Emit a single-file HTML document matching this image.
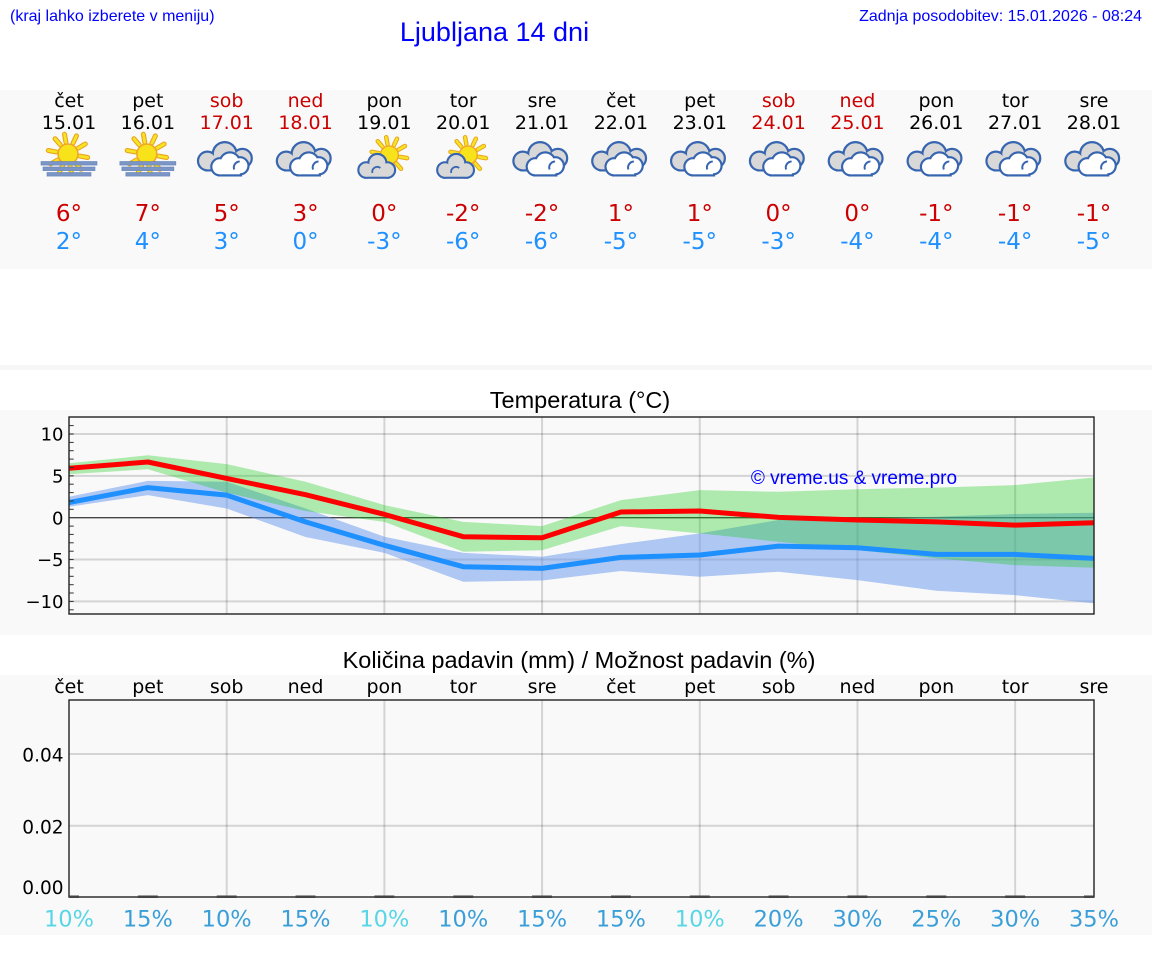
<!DOCTYPE html>
<html><head><meta charset="utf-8"><style>
html,body{margin:0;padding:0;background:#fff;}
svg{display:block;}
.dj{font-family:"DejaVu Sans","Liberation Sans",sans-serif;}
.ls{font-family:"Liberation Sans",Arial,sans-serif;}
</style></head><body>
<svg width="1152" height="975" viewBox="0 0 1152 975" xmlns="http://www.w3.org/2000/svg">
<defs>
  <g id="sunrays">
    <g stroke="#e9a41c" stroke-width="5" stroke-linecap="round">
      <line x1="-11.8" y1="-2.1" x2="-19.7" y2="-3.5"/><line x1="-7.7" y1="-9.2" x2="-12.9" y2="-15.3"/>
      <line x1="-2.1" y1="-11.8" x2="-3.5" y2="-19.7"/><line x1="5.1" y1="-10.9" x2="8.5" y2="-18.1"/>
      <line x1="10.4" y1="-6" x2="17.3" y2="-10"/><line x1="11.8" y1="2.1" x2="19.7" y2="3.5"/>
      <line x1="7.7" y1="9.2" x2="12.9" y2="15.3"/><line x1="-5.1" y1="10.9" x2="-8.5" y2="18.1"/>
      <line x1="-10.4" y1="6" x2="-17.3" y2="10"/><line x1="2.1" y1="11.8" x2="3.5" y2="19.7"/>
    </g>
    <g stroke="#f7e325" stroke-width="2.8" stroke-linecap="round">
      <line x1="-11.8" y1="-2.1" x2="-19.7" y2="-3.5"/><line x1="-7.7" y1="-9.2" x2="-12.9" y2="-15.3"/>
      <line x1="-2.1" y1="-11.8" x2="-3.5" y2="-19.7"/><line x1="5.1" y1="-10.9" x2="8.5" y2="-18.1"/>
      <line x1="10.4" y1="-6" x2="17.3" y2="-10"/><line x1="11.8" y1="2.1" x2="19.7" y2="3.5"/>
      <line x1="7.7" y1="9.2" x2="12.9" y2="15.3"/><line x1="-5.1" y1="10.9" x2="-8.5" y2="18.1"/>
      <line x1="-10.4" y1="6" x2="-17.3" y2="10"/><line x1="2.1" y1="11.8" x2="3.5" y2="19.7"/>
    </g>
    <circle cx="0" cy="0" r="10" fill="#f8e21a" stroke="#eea52a" stroke-width="1.5"/>
  </g>
  <g id="fog">
    <use href="#sunrays" transform="translate(-1,-6)"/>
    <rect x="-28" y="1.5" width="56" height="3.6" fill="#7b95c7" stroke="#6482b8" stroke-width="0.6"/>
    <rect x="-26" y="7" width="52" height="3.6" fill="#7b95c7" stroke="#6482b8" stroke-width="0.6"/>
    <rect x="-22" y="12.5" width="44" height="3.6" fill="#7b95c7" stroke="#6482b8" stroke-width="0.6"/>
  </g>
  <g id="cloud">
    <g fill="#3765b0" stroke="#3765b0" stroke-width="4.4">
      <circle cx="-19.3" cy="1" r="8.3"/><circle cx="-2" cy="-6" r="10.8"/><circle cx="15.7" cy="-1.7" r="8.3"/>
      <rect x="-19.3" y="1" width="35" height="8.3"/>
    </g>
    <g fill="#d8d8d8">
      <circle cx="-19.3" cy="1" r="8.3"/><circle cx="-2" cy="-6" r="10.8"/><circle cx="15.7" cy="-1.7" r="8.3"/>
      <rect x="-19.3" y="1" width="35" height="8.3"/>
    </g>
    <g fill="#3765b0" stroke="#3765b0" stroke-width="4.4">
      <circle cx="-6.8" cy="6.8" r="7.5"/><circle cx="3.2" cy="2.5" r="9"/><circle cx="13.2" cy="5.8" r="7.5"/>
      <rect x="-6.8" y="5.8" width="20" height="8.5"/>
    </g>
    <g fill="#ffffff">
      <circle cx="-6.8" cy="6.8" r="7.5"/><circle cx="3.2" cy="2.5" r="9"/><circle cx="13.2" cy="5.8" r="7.5"/>
      <rect x="-6.8" y="5.8" width="20" height="8.5"/>
    </g>
    <path d="M7.5 9.5 A6 6 0 0 1 13 1.5" fill="none" stroke="#3765b0" stroke-width="2"/>
  </g>
  <g id="pcloud">
    <use href="#sunrays" transform="translate(5,-5) scale(0.9)"/>
    <g fill="#3765b0" stroke="#3765b0" stroke-width="4.2">
      <circle cx="-18.3" cy="10" r="6.7"/><circle cx="-7" cy="3" r="8"/><circle cx="3" cy="10" r="6.7"/>
      <rect x="-18.3" y="10" width="21.3" height="6.7"/>
    </g>
    <g fill="#d8d8d8">
      <circle cx="-18.3" cy="10" r="6.7"/><circle cx="-7" cy="3" r="8"/><circle cx="3" cy="10" r="6.7"/>
      <rect x="-18.3" y="10" width="21.3" height="6.7"/>
    </g>
    <path d="M-12 13 A5 5 0 0 1 -4 8" fill="none" stroke="#3765b0" stroke-width="1.8"/>
  </g>
  <clipPath id="tclip"><rect x="69" y="417" width="1025" height="197"/></clipPath>
</defs>

<!-- header -->
<text x="10" y="21" class="ls" font-size="16" fill="#0000ff">(kraj lahko izberete v meniju)</text>
<text x="494.5" y="41" class="ls" font-size="27" fill="#0000ff" text-anchor="middle">Ljubljana 14 dni</text>
<text x="1142" y="21" class="ls" font-size="16" fill="#0000ff" text-anchor="end">Zadnja posodobitev: 15.01.2026 - 08:24</text>

<!-- top panel -->
<rect x="0" y="90" width="1152" height="179" fill="#f9f9f9"/>
<g class="dj" font-size="19" text-anchor="middle">
  <text x="69" y="107">čet</text><text x="147.85" y="107">pet</text>
  <text x="226.69" y="107" fill="#cc0000">sob</text><text x="305.54" y="107" fill="#cc0000">ned</text>
  <text x="384.38" y="107">pon</text><text x="463.23" y="107">tor</text><text x="542.08" y="107">sre</text>
  <text x="620.92" y="107">čet</text><text x="699.77" y="107">pet</text>
  <text x="778.62" y="107" fill="#cc0000">sob</text><text x="857.46" y="107" fill="#cc0000">ned</text>
  <text x="936.31" y="107">pon</text><text x="1015.15" y="107">tor</text><text x="1094" y="107">sre</text>

  <text x="69" y="129">15.01</text><text x="147.85" y="129">16.01</text>
  <text x="226.69" y="129" fill="#cc0000">17.01</text><text x="305.54" y="129" fill="#cc0000">18.01</text>
  <text x="384.38" y="129">19.01</text><text x="463.23" y="129">20.01</text><text x="542.08" y="129">21.01</text>
  <text x="620.92" y="129">22.01</text><text x="699.77" y="129">23.01</text>
  <text x="778.62" y="129" fill="#cc0000">24.01</text><text x="857.46" y="129" fill="#cc0000">25.01</text>
  <text x="936.31" y="129">26.01</text><text x="1015.15" y="129">27.01</text><text x="1094" y="129">28.01</text>
</g>
<use href="#fog" transform="translate(69,160)"/>
<use href="#fog" transform="translate(147.85,160)"/>
<use href="#cloud" transform="translate(226.69,160)"/>
<use href="#cloud" transform="translate(305.54,160)"/>
<use href="#pcloud" transform="translate(384.38,160)"/>
<use href="#pcloud" transform="translate(463.23,160)"/>
<use href="#cloud" transform="translate(542.08,160)"/>
<use href="#cloud" transform="translate(620.92,160)"/>
<use href="#cloud" transform="translate(699.77,160)"/>
<use href="#cloud" transform="translate(778.62,160)"/>
<use href="#cloud" transform="translate(857.46,160)"/>
<use href="#cloud" transform="translate(936.31,160)"/>
<use href="#cloud" transform="translate(1015.15,160)"/>
<use href="#cloud" transform="translate(1094,160)"/>
<g class="dj" font-size="23" text-anchor="middle" fill="#cc0000">
  <text x="69" y="221">6°</text><text x="147.85" y="221">7°</text><text x="226.69" y="221">5°</text>
  <text x="305.54" y="221">3°</text><text x="384.38" y="221">0°</text><text x="463.23" y="221">-2°</text>
  <text x="542.08" y="221">-2°</text><text x="620.92" y="221">1°</text><text x="699.77" y="221">1°</text>
  <text x="778.62" y="221">0°</text><text x="857.46" y="221">0°</text><text x="936.31" y="221">-1°</text>
  <text x="1015.15" y="221">-1°</text><text x="1094" y="221">-1°</text>
</g>
<g class="dj" font-size="23" text-anchor="middle" fill="#1e90ff">
  <text x="69" y="249">2°</text><text x="147.85" y="249">4°</text><text x="226.69" y="249">3°</text>
  <text x="305.54" y="249">0°</text><text x="384.38" y="249">-3°</text><text x="463.23" y="249">-6°</text>
  <text x="542.08" y="249">-6°</text><text x="620.92" y="249">-5°</text><text x="699.77" y="249">-5°</text>
  <text x="778.62" y="249">-3°</text><text x="857.46" y="249">-4°</text><text x="936.31" y="249">-4°</text>
  <text x="1015.15" y="249">-4°</text><text x="1094" y="249">-5°</text>
</g>

<!-- separator -->
<rect x="0" y="365" width="1152" height="5" fill="#f7f7f7"/>

<!-- temperature chart -->
<rect x="0" y="410" width="1152" height="225" fill="#f9f9f9"/>
<text x="580" y="408" class="ls" font-size="23.5" text-anchor="middle" fill="#000">Temperatura (°C)</text>
<g stroke="rgba(0,0,0,0.15)" stroke-width="2" fill="none">
  <line x1="69" y1="434" x2="1094" y2="434"/>
  <line x1="69" y1="475.85" x2="1094" y2="475.85"/>
  <line x1="69" y1="559.55" x2="1094" y2="559.55"/>
  <line x1="69" y1="601.4" x2="1094" y2="601.4"/>
  <line x1="226.69" y1="417" x2="226.69" y2="614"/>
  <line x1="384.38" y1="417" x2="384.38" y2="614"/>
  <line x1="542.08" y1="417" x2="542.08" y2="614"/>
  <line x1="699.77" y1="417" x2="699.77" y2="614"/>
  <line x1="857.46" y1="417" x2="857.46" y2="614"/>
  <line x1="1015.15" y1="417" x2="1015.15" y2="614"/>
</g>
<line x1="69" y1="517.7" x2="1094" y2="517.7" stroke="#444" stroke-width="1.3"/>
<g clip-path="url(#tclip)">
  <polygon fill="rgba(100,149,237,0.5)" points="69,496.8 147.85,480.9 226.69,481.7 305.54,508.5 384.38,536.7 463.23,552.9 542.08,556.7 620.92,544.1 699.77,533.4 778.62,520.0 857.46,518.4 936.31,516.7 1015.15,514.0 1094,512.7 1094,603.4 1015.15,595.1 936.31,590.8 857.46,580.1 778.62,571.7 699.77,576.7 620.92,571.0 542.08,580.5 463.23,581.7 384.38,552.9 305.54,537.0 226.69,508.5 147.85,495.1 69,506.8"/>
  <polygon fill="rgba(15,202,15,0.32)" points="69,463.3 147.85,455.3 226.69,464.1 305.54,481.7 384.38,505.1 463.23,521.9 542.08,526.1 620.92,500.1 699.77,490.1 778.62,491.8 857.46,489.2 936.31,487.6 1015.15,485.1 1094,477.5 1094,567.8 1015.15,565.1 936.31,558.4 857.46,550.0 778.62,541.7 699.77,533.4 620.92,526.1 542.08,550.3 463.23,551.7 384.38,521.9 305.54,511.0 226.69,492.6 147.85,469.2 69,474.2"/>
  <polyline fill="none" stroke="#ff0000" stroke-width="5" stroke-linejoin="round" points="69,468.3 147.85,462.0 226.69,478.4 305.54,494.7 384.38,514.35 463.23,536.7 542.08,537.8 620.92,512.0 699.77,511.0 778.62,517.4 857.46,520.0 936.31,521.9 1015.15,525.1 1094,522.7"/>
  <polyline fill="none" stroke="#1e90ff" stroke-width="5" stroke-linejoin="round" points="69,502.6 147.85,487.6 226.69,495.1 305.54,521.9 384.38,545.3 463.23,566.7 542.08,568.4 620.92,557.4 699.77,555.0 778.62,546.1 857.46,547.7 936.31,554.4 1015.15,554.4 1094,558.4"/>
</g>
<text x="854" y="484" class="ls" font-size="19" text-anchor="middle" fill="#0000ff">© vreme.us &amp; vreme.pro</text>
<g stroke="#333" stroke-width="1">
  <line x1="69" y1="425.6" x2="73.7" y2="425.6"/><line x1="69" y1="434" x2="73.7" y2="434"/>
  <line x1="69" y1="442.4" x2="73.7" y2="442.4"/><line x1="69" y1="450.7" x2="73.7" y2="450.7"/>
  <line x1="69" y1="459.1" x2="73.7" y2="459.1"/><line x1="69" y1="467.5" x2="73.7" y2="467.5"/>
  <line x1="69" y1="475.85" x2="73.7" y2="475.85"/><line x1="69" y1="484.2" x2="73.7" y2="484.2"/>
  <line x1="69" y1="492.6" x2="73.7" y2="492.6"/><line x1="69" y1="501" x2="73.7" y2="501"/>
  <line x1="69" y1="509.3" x2="73.7" y2="509.3"/><line x1="69" y1="526.1" x2="73.7" y2="526.1"/>
  <line x1="69" y1="534.4" x2="73.7" y2="534.4"/><line x1="69" y1="542.8" x2="73.7" y2="542.8"/>
  <line x1="69" y1="551.2" x2="73.7" y2="551.2"/><line x1="69" y1="559.55" x2="73.7" y2="559.55"/>
  <line x1="69" y1="567.9" x2="73.7" y2="567.9"/><line x1="69" y1="576.3" x2="73.7" y2="576.3"/>
  <line x1="69" y1="584.7" x2="73.7" y2="584.7"/><line x1="69" y1="593" x2="73.7" y2="593"/>
  <line x1="69" y1="601.4" x2="73.7" y2="601.4"/><line x1="69" y1="609.8" x2="73.7" y2="609.8"/>
</g>
<rect x="69" y="417" width="1025" height="197" fill="none" stroke="#222" stroke-width="1.4"/>
<g class="dj" font-size="18" text-anchor="end" fill="#000">
  <text x="63.5" y="440.6">10</text>
  <text x="63.5" y="482.5">5</text>
  <text x="63.5" y="524.3">0</text>
  <text x="63.5" y="566.2">−5</text>
  <text x="63.5" y="608">−10</text>
</g>

<!-- precipitation chart -->
<rect x="0" y="675" width="1152" height="260" fill="#f9f9f9"/>
<text x="579" y="668" class="ls" font-size="23.5" text-anchor="middle" fill="#000">Količina padavin (mm) / Možnost padavin (%)</text>
<g class="dj" font-size="19" text-anchor="middle" fill="#000">
  <text x="69" y="693">čet</text><text x="147.85" y="693">pet</text><text x="226.69" y="693">sob</text>
  <text x="305.54" y="693">ned</text><text x="384.38" y="693">pon</text><text x="463.23" y="693">tor</text>
  <text x="542.08" y="693">sre</text><text x="620.92" y="693">čet</text><text x="699.77" y="693">pet</text>
  <text x="778.62" y="693">sob</text><text x="857.46" y="693">ned</text><text x="936.31" y="693">pon</text>
  <text x="1015.15" y="693">tor</text><text x="1094" y="693">sre</text>
</g>
<g stroke="rgba(0,0,0,0.15)" stroke-width="2" fill="none">
  <line x1="69" y1="754" x2="1094" y2="754"/>
  <line x1="69" y1="825.7" x2="1094" y2="825.7"/>
  <line x1="226.69" y1="700" x2="226.69" y2="897"/>
  <line x1="384.38" y1="700" x2="384.38" y2="897"/>
  <line x1="542.08" y1="700" x2="542.08" y2="897"/>
  <line x1="699.77" y1="700" x2="699.77" y2="897"/>
  <line x1="857.46" y1="700" x2="857.46" y2="897"/>
  <line x1="1015.15" y1="700" x2="1015.15" y2="897"/>
</g>
<rect x="69" y="700" width="1025" height="197" fill="none" stroke="#222" stroke-width="1.4"/>
<g fill="#444">
  <rect x="69" y="895.5" width="10" height="2.5"/>
  <rect x="137.85" y="895.5" width="20" height="2.5"/><rect x="216.69" y="895.5" width="20" height="2.5"/>
  <rect x="295.54" y="895.5" width="20" height="2.5"/><rect x="374.38" y="895.5" width="20" height="2.5"/>
  <rect x="453.23" y="895.5" width="20" height="2.5"/><rect x="532.08" y="895.5" width="20" height="2.5"/>
  <rect x="610.92" y="895.5" width="20" height="2.5"/><rect x="689.77" y="895.5" width="20" height="2.5"/>
  <rect x="768.62" y="895.5" width="20" height="2.5"/><rect x="847.46" y="895.5" width="20" height="2.5"/>
  <rect x="926.31" y="895.5" width="20" height="2.5"/><rect x="1005.15" y="895.5" width="20" height="2.5"/>
  <rect x="1084" y="895.5" width="10" height="2.5"/>
</g>
<g class="dj" font-size="18.5" text-anchor="end" fill="#000">
  <text x="63.5" y="761.7">0.04</text>
  <text x="63.5" y="833.3">0.02</text>
  <text x="63.5" y="894">0.00</text>
</g>
<g class="dj" font-size="22.5" text-anchor="middle" fill="#3a9fd8">
  <text x="69" y="926.7" fill="#58d6e6">10%</text>
  <text x="147.85" y="926.7">15%</text>
  <text x="226.69" y="926.7">10%</text>
  <text x="305.54" y="926.7">15%</text>
  <text x="384.38" y="926.7" fill="#58d6e6">10%</text>
  <text x="463.23" y="926.7">10%</text>
  <text x="542.08" y="926.7">15%</text>
  <text x="620.92" y="926.7">15%</text>
  <text x="699.77" y="926.7" fill="#58d6e6">10%</text>
  <text x="778.62" y="926.7">20%</text>
  <text x="857.46" y="926.7">30%</text>
  <text x="936.31" y="926.7">25%</text>
  <text x="1015.15" y="926.7">30%</text>
  <text x="1094" y="926.7">35%</text>
</g>
</svg>
</body></html>
